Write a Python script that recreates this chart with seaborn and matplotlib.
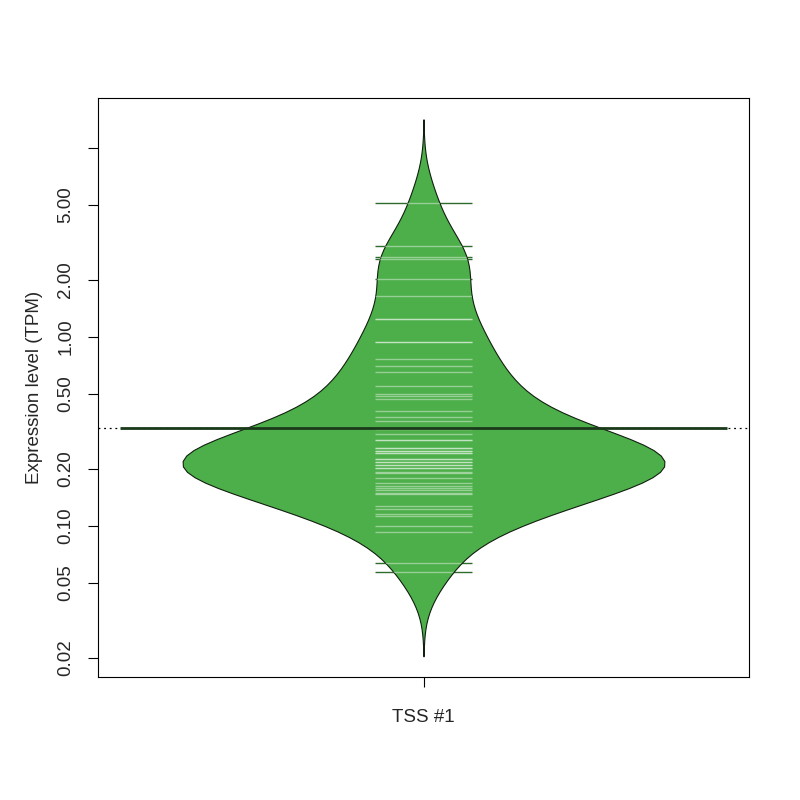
import numpy as np
import pandas as pd
import matplotlib
matplotlib.use("Agg")
import matplotlib.pyplot as plt
import seaborn as sns
from matplotlib.collections import LineCollection

# ---- data (TPM values; repeated values = overlapping lines) ----
category = "TSS #1"
values = [5.10, 3.04, 2.66, 2.58, 2.03, 1.65, 1.24, 1.24, 0.937, 0.937,
          0.765, 0.702,
          0.655, 0.550, 0.499, 0.487, 0.468, 0.407, 0.379, 0.361, 0.325,
          0.307, 0.285, 0.285, 0.258, 0.258, 0.250, 0.250, 0.244, 0.244,
          0.226, 0.226, 0.219, 0.219, 0.210, 0.210, 0.2035, 0.2035,
          0.194, 0.190, 0.180, 0.168, 0.163, 0.1594, 0.155, 0.149, 0.147,
          0.128, 0.123, 0.116, 0.1134, 0.1004, 0.0926, 0.0635, 0.0569]
ytick_values = [0.02, 0.05, 0.10, 0.20, 0.50, 1.00, 2.00, 5.00, 10.0]
ytick_labels = ["0.02", "0.05", "0.10", "0.20", "0.50", "1.00", "2.00", "5.00", ""]
y_label = "Expression level (TPM)"

df = pd.DataFrame({"group": [category] * len(values), "tpm": values})

sns.set_style("ticks")
plt.rcParams["font.family"] = ["Liberation Sans", "DejaVu Sans"]

fig = plt.figure(figsize=(8, 8), dpi=100)
ax = fig.add_axes([0.1225, 0.15375, 0.81375, 0.72375])

logv = np.log10(np.asarray(values))
target_bw = 0.148
bw_factor = target_bw / np.std(logv, ddof=1)

fill_col = "#4DAF4A"
sns.violinplot(data=df, x="group", y="tpm", log_scale=True, inner=None,
               cut=3, bw_method=bw_factor, width=0.74, color=fill_col,
               saturation=1, linewidth=0.8, linecolor="#10200f", ax=ax,
               zorder=3)
poly = ax.collections[0]

# bean lines: dark outside the bean (below the fill), light inside (clipped)
half = 0.075
segs = [[(-half, v), (half, v)] for v in values]
dark = LineCollection(segs, colors="#2F6B2D", linewidths=1.0, zorder=2)
ax.add_collection(dark)
light = LineCollection(segs, colors=(1, 1, 1, 0.42), linewidths=1.0, zorder=4)
ax.add_collection(light)
light.set_clip_path(poly.get_paths()[0], transform=poly.get_transform())

# overall average (dotted) and bean average
gmean = 10 ** np.mean(logv)
ax.axhline(gmean, color="black", linestyle=(0, (1.5, 3)), linewidth=0.9, zorder=1)
ax.hlines(gmean, -0.466, 0.466, color="#1B3A1A", linewidth=2.0, zorder=5)

ax.set_xlim(-0.5, 0.5)
ax.set_ylim(0.01589, 18.39)
ax.set_yticks(ytick_values)
ax.set_yticklabels(ytick_labels, rotation=90, va="center", fontsize=13.5)
ax.yaxis.set_minor_locator(matplotlib.ticker.NullLocator())
ax.set_xticks([0])
ax.set_xticklabels([category], fontsize=13.5)
ax.tick_params(axis="y", direction="out", length=7, width=0.8, color="black", pad=10)
ax.tick_params(axis="x", direction="out", length=7, width=0.8, color="black", pad=16)
ax.set_xlabel("")
ax.set_ylabel(y_label, fontsize=13.5, labelpad=10)
for s in ax.spines.values():
    s.set_visible(True)
    s.set_color("black")
    s.set_linewidth(0.8)

fig.savefig("out.png", dpi=100, facecolor="white")
